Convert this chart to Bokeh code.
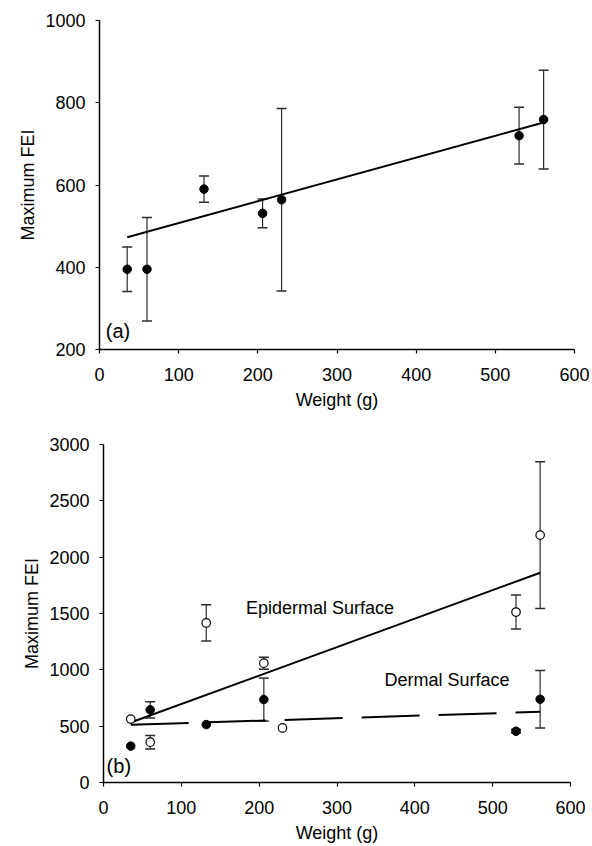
from bokeh.plotting import figure
from bokeh.models import ColumnDataSource, Range1d, FixedTicker, Whisker, TeeHead, Label
from bokeh.embed import file_html
from bokeh.resources import INLINE

# ---------------- data ----------------
# Panel (a)
weight_a = [35, 60, 132, 206, 230, 530, 561]
fei_a = [395, 395, 590, 531, 564, 720, 759]
err_a = [54, 126, 32, 35, 222, 69, 120]
fit_a_x = [35, 561]
fit_a_y = [473, 752]

# Panel (b) - Epidermal surface (open circles)
weight_epi = [35, 60, 132, 206, 230, 530, 561]
fei_epi = [563, 358, 1416, 1059, 484, 1513, 2196]
err_epi = [0, 60, 161, 53, 0, 151, 651]
fit_epi_x = [35, 561]
fit_epi_y = [532, 1862]

# Panel (b) - Dermal surface (filled circles)
weight_derm = [35, 60, 132, 206, 530, 561]
fei_derm = [323, 645, 514, 736, 455, 739]
err_derm = [0, 72, 0, 191, 15, 255]
fit_derm_x = [35, 561]
fit_derm_y = [512, 628]

x_ticks = [0, 100, 200, 300, 400, 500, 600]
y_ticks_a = [200, 400, 600, 800, 1000]
y_ticks_b = [0, 500, 1000, 1500, 2000, 2500, 3000]

FONT = "Liberation Sans"
FS = "18px"
ERR_COLOR = "#2b2b2b"


def style(p, yticks):
    p.xgrid.visible = False
    p.ygrid.visible = False
    p.outline_line_color = None
    p.background_fill_color = "white"
    p.border_fill_color = "white"
    p.xaxis.ticker = FixedTicker(ticks=x_ticks)
    p.yaxis.ticker = FixedTicker(ticks=yticks)
    for ax in (p.xaxis[0], p.yaxis[0]):
        ax.axis_line_color = "black"
        ax.axis_line_width = 1.5
        ax.major_tick_line_color = "black"
        ax.major_tick_line_width = 1.2
        ax.major_tick_out = 4
        ax.major_tick_in = 0
        ax.minor_tick_line_color = None
        ax.major_label_text_font = FONT
        ax.major_label_text_font_size = FS
        ax.major_label_text_color = "black"
        ax.axis_label_text_font = FONT
        ax.axis_label_text_font_size = FS
        ax.axis_label_text_font_style = "normal"
        ax.axis_label_text_color = "black"
    p.xaxis.major_label_standoff = 14
    p.xaxis.axis_label_standoff = 6
    p.yaxis.major_label_standoff = 10
    p.yaxis.axis_label_standoff = 4
    p.xaxis.axis_label = "Weight (g)"
    p.yaxis.axis_label = "Maximum FEI"


def add_err(p, xs, ys, es):
    src = ColumnDataSource(dict(
        x=[x for x, e in zip(xs, es) if e > 0],
        upper=[y + e for y, e in zip(ys, es) if e > 0],
        lower=[y - e for y, e in zip(ys, es) if e > 0],
    ))
    w = Whisker(source=src, base="x", upper="upper", lower="lower",
                dimension="height", line_color=ERR_COLOR, line_width=1.2,
                upper_head=TeeHead(size=10, line_color=ERR_COLOR, line_width=1.5),
                lower_head=TeeHead(size=10, line_color=ERR_COLOR, line_width=1.5))
    p.add_layout(w)


# ---------------- panel (a) ----------------
p1 = figure(width=592, height=412, output_backend="svg", toolbar_location=None,
            x_range=Range1d(0, 600), y_range=Range1d(200, 1000),
            min_border_left=99, min_border_right=18, min_border_top=20,
            min_border_bottom=60)
style(p1, y_ticks_a)
add_err(p1, weight_a, fei_a, err_a)
p1.scatter(weight_a, fei_a, size=8.5, marker="circle", fill_color="black",
           line_color="black")
p1.line(fit_a_x, fit_a_y, line_color="black", line_width=2)
p1.add_layout(Label(x=8, y=244, text="(a)", text_font=FONT, text_font_size="20px",
                    text_baseline="middle", text_align="left", text_color="black"))

# ---------------- panel (b) ----------------
p2 = figure(width=592, height=433, output_backend="svg", toolbar_location=None,
            x_range=Range1d(0, 600), y_range=Range1d(0, 3000),
            min_border_left=103, min_border_right=22, min_border_top=32,
            min_border_bottom=59)
style(p2, y_ticks_b)
add_err(p2, weight_epi, fei_epi, err_epi)
add_err(p2, weight_derm, fei_derm, err_derm)
p2.line(fit_epi_x, fit_epi_y, line_color="black", line_width=2)
p2.line(fit_derm_x, fit_derm_y, line_color="black", line_width=2, line_dash="58 19")
p2.scatter(weight_epi, fei_epi, size=8.5, marker="circle", fill_color="white",
           line_color="black", line_width=1.2)
p2.scatter(weight_derm, fei_derm, size=8.5, marker="circle", fill_color="black",
           line_color="black")
p2.add_layout(Label(x=4, y=144, text="(b)", text_font=FONT, text_font_size="20px",
                    text_baseline="middle", text_align="left", text_color="black"))
p2.add_layout(Label(x=183, y=1545, text="Epidermal Surface", text_font=FONT,
                    text_font_size=FS, text_baseline="middle", text_align="left",
                    text_color="black"))
p2.add_layout(Label(x=361, y=909, text="Dermal Surface", text_font=FONT,
                    text_font_size=FS, text_baseline="middle", text_align="left",
                    text_color="black"))

open("out.html", "w").write(file_html([p1, p2], INLINE))
